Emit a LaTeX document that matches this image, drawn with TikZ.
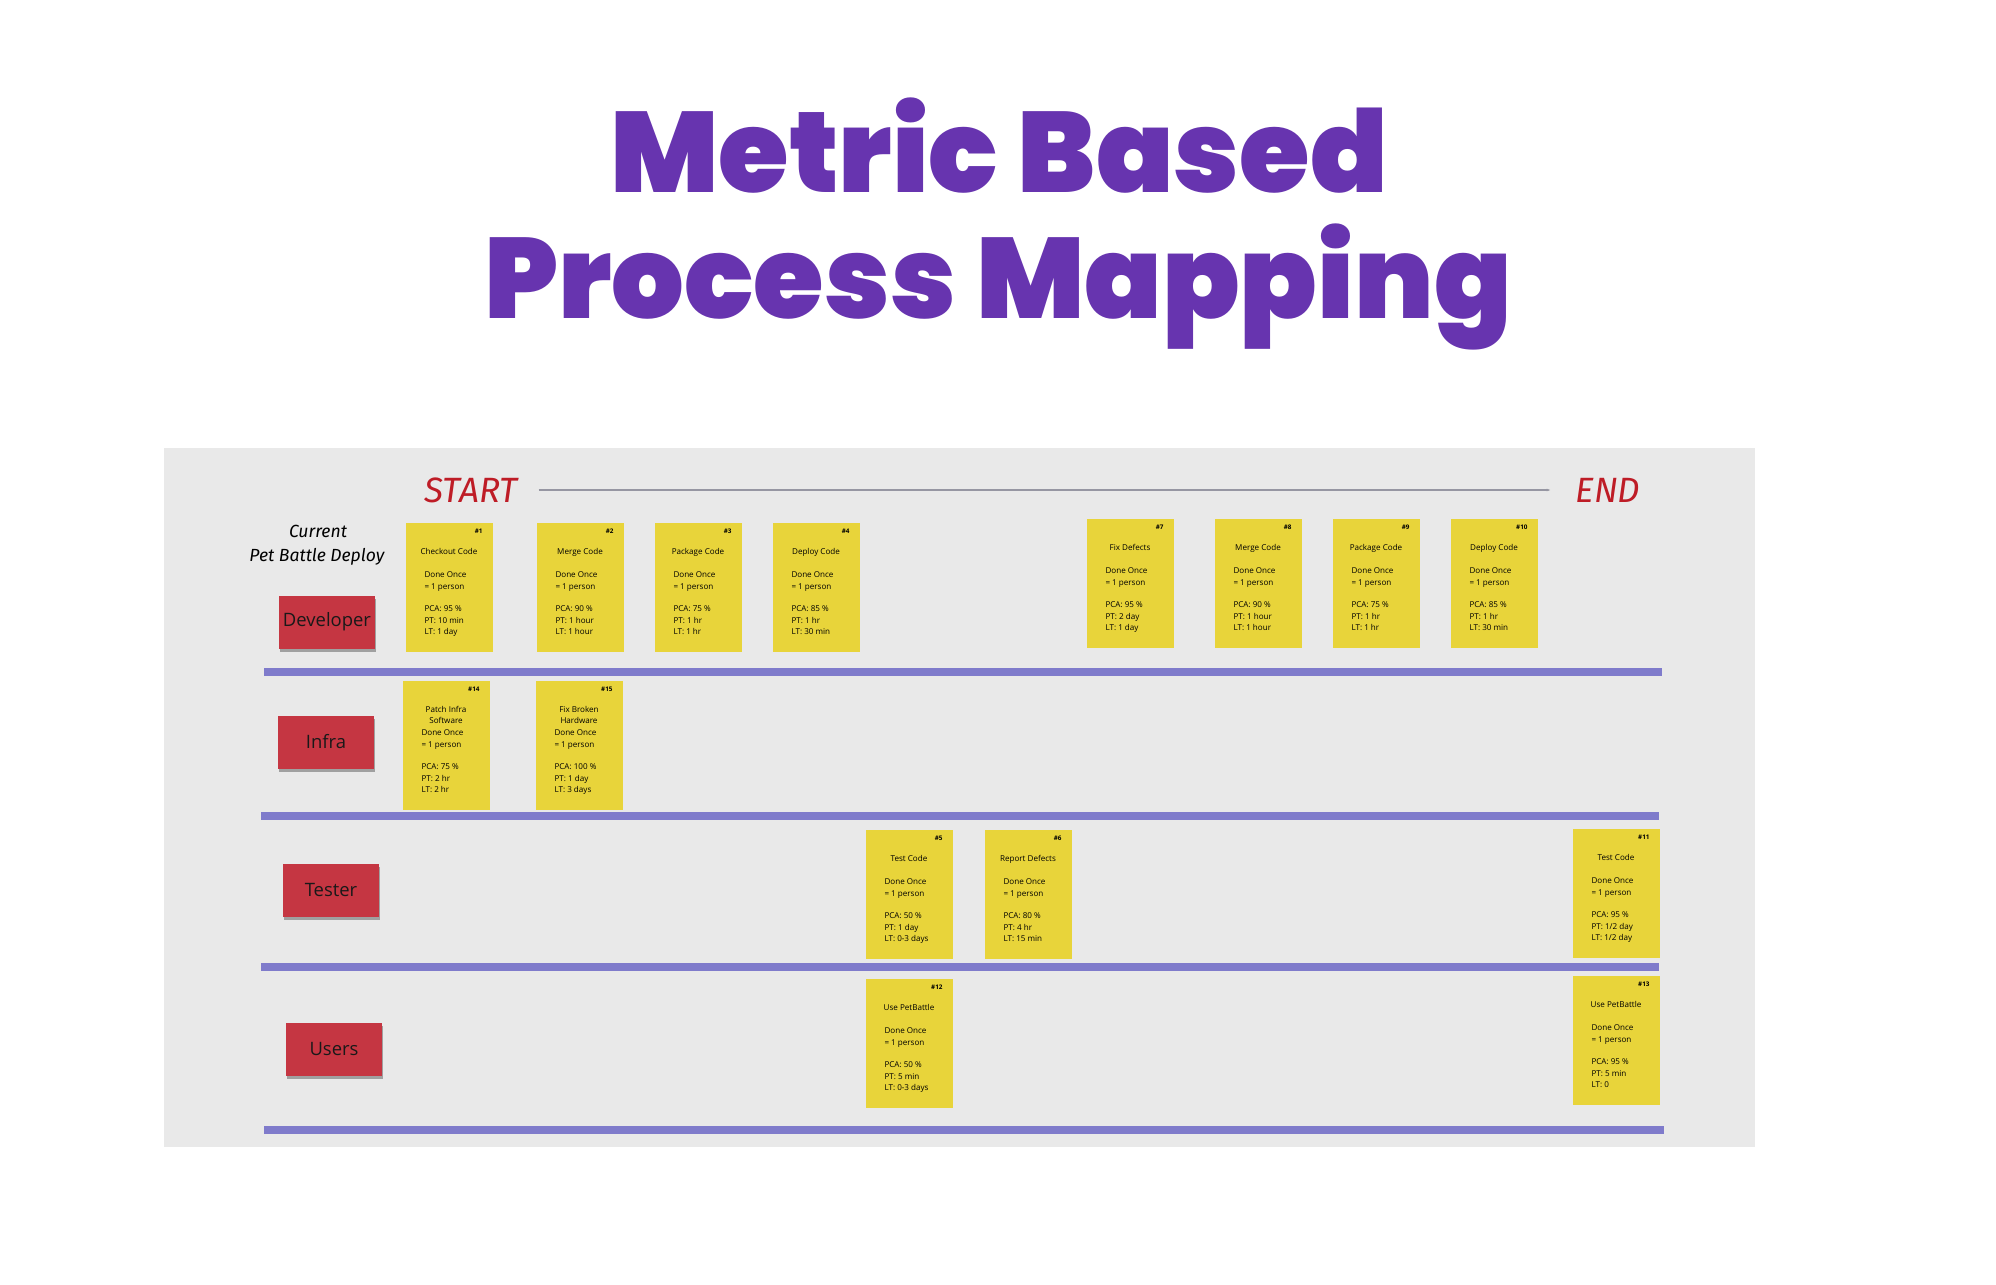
\documentclass[tikz,border=0pt]{standalone}
\usepackage{fontspec}
\setmainfont{Open Sans}
\newfontfamily\titlefont{Poppins}[UprightFont={* Black}]
\newfontfamily\handfont{Fira Sans}
\usetikzlibrary{positioning,shadows,arrows.meta}

\definecolor{titlepurple}{RGB}{103,52,175}
\definecolor{boardgray}{RGB}{233,233,233}
\definecolor{lanebl}{RGB}{127,123,203}
\definecolor{rolered}{RGB}{197,54,66}
\definecolor{startred}{RGB}{190,28,38}
\definecolor{stickyyellow}{RGB}{232,212,58}
\definecolor{flowgray}{RGB}{150,150,162}

\tikzset{
  title/.style={anchor=base, inner sep=0pt, text=titlepurple,
    font=\titlefont\fontsize{65}{70}\selectfont},
  hand/.style={inner sep=0pt, font=\handfont\itshape\fontsize{10}{12}\selectfont},
  startend/.style={inner sep=0pt, text=startred,
    font=\handfont\itshape\fontsize{20}{24}\selectfont},
  flowline/.style={draw=flowgray, line width=0.6pt, -{Stealth[length=2pt]}},
  lane/.style={draw=lanebl, line width=5pt},
  role/.style={fill=rolered, minimum width=1.92cm, minimum height=1.06cm,
    inner sep=0pt, text=black!90, font=\fontsize{10.5}{12}\selectfont,
    drop shadow={shadow xshift=0.01cm, shadow yshift=-0.07cm,
      opacity=0.4, fill=black!80}},
  sticky/.style={fill=stickyyellow, minimum width=1.74cm, minimum height=2.58cm,
    inner sep=0pt},
  stickynum/.style={inner sep=0pt, font=\bfseries\fontsize{3.6}{4}\selectfont},
  stickytitle/.style={inner sep=0pt, align=center,
    font=\fontsize{4.6}{6.66}\selectfont},
  stickybody/.style={inner sep=0pt, align=left,
    font=\fontsize{4.6}{6.66}\selectfont},
}

% one yellow note: name, centre, number, title, PCA, PT, LT
\newcommand{\stickynote}[7]{%
  \node[sticky] (#1) at (#2) {};
  \node[stickynum, below left=0.13cm and 0.2cm of #1.north east] {\##3};
  \node[stickytitle, below=0.51cm of #1.north] {#4};
  \node[stickybody, below right=0.99cm and 0.38cm of #1.north west]
    {Done Once\\= 1 person\\[5.8pt]PCA: #5\\PT: #6\\LT: #7};
}

\begin{document}
\begin{tikzpicture}
\useasboundingbox (0,0) rectangle (39.92,-25.68);
\fill[white] (0,0) rectangle (39.92,-25.68);
% title
\node[title] (t1) at (19.98,-3.84) {Metric Based};
\node[title] (t2) at (19.96,-6.36) {Process Mapping};
% the board
\fill[boardgray] (3.28,-8.96) rectangle (35.10,-22.94);
% start and end
\node[startend] (start) at (9.42,-9.80) {START};
\node[startend] (end) at (32.16,-9.80) {END};
\draw[flowline, shorten <=0.42cm, shorten >=0.5cm] (start.east) -- (end.west);
\node[hand] (cur) at (6.36,-10.62) {Current};
\node[hand] (pbd) at (6.34,-11.14) {Pet Battle Deploy};
% swim lanes
\draw[lane] (5.28,-13.44) -- (33.24,-13.44);
\draw[lane] (5.22,-16.32) -- (33.18,-16.32);
\draw[lane] (5.22,-19.34) -- (33.18,-19.34);
\draw[lane] (5.28,-22.60) -- (33.28,-22.60);
% roles
\node[role] (dev) at (6.54,-12.44) {Developer};
\node[role] (infra) at (6.52,-14.84) {Infra};
\node[role] (tester) at (6.62,-17.80) {Tester};
\node[role] (users) at (6.68,-20.98) {Users};
% developer notes
\stickynote{s1}{8.98,-11.74}{1}{Checkout Code}{95 \%}{10 min}{1 day}
\stickynote{s2}{11.60,-11.74}{2}{Merge Code}{90 \%}{1 hour}{1 hour}
\stickynote{s3}{13.96,-11.74}{3}{Package Code}{75 \%}{1 hr}{1 hr}
\stickynote{s4}{16.32,-11.74}{4}{Deploy Code}{85 \%}{1 hr}{30 min}
\stickynote{s7}{22.60,-11.66}{7}{Fix Defects}{95 \%}{2 day}{1 day}
\stickynote{s8}{25.16,-11.66}{8}{Merge Code}{90 \%}{1 hour}{1 hour}
\stickynote{s9}{27.52,-11.66}{9}{Package Code}{75 \%}{1 hr}{1 hr}
\stickynote{s10}{29.88,-11.66}{10}{Deploy Code}{85 \%}{1 hr}{30 min}
% infra notes
\stickynote{s14}{8.92,-14.90}{14}{Patch Infra\\Software}{75 \%}{2 hr}{2 hr}
\stickynote{s15}{11.58,-14.90}{15}{Fix Broken\\Hardware}{100 \%}{1 day}{3 days}
% tester notes
\stickynote{s5}{18.18,-17.88}{5}{Test Code}{50 \%}{1 day}{0-3 days}
\stickynote{s6}{20.56,-17.88}{6}{Report Defects}{80 \%}{4 hr}{15 min}
\stickynote{s11}{32.32,-17.86}{11}{Test Code}{95 \%}{1/2 day}{1/2 day}
% user notes
\stickynote{s12}{18.18,-20.86}{12}{Use PetBattle}{50 \%}{5 min}{0-3 days}
\stickynote{s13}{32.32,-20.80}{13}{Use PetBattle}{95 \%}{5 min}{0}
\end{tikzpicture}
\end{document}
